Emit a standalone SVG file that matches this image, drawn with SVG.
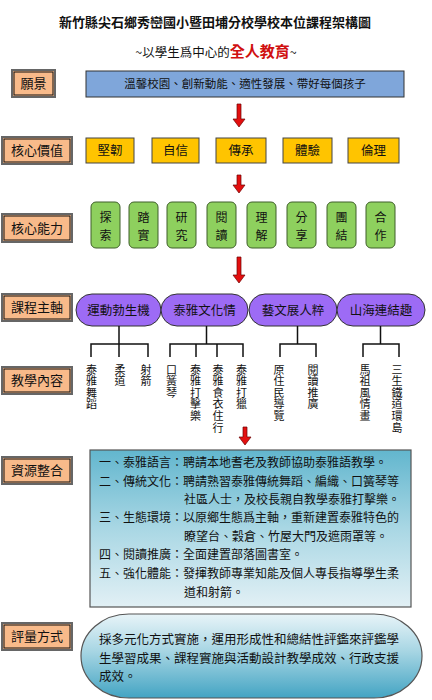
<svg xmlns="http://www.w3.org/2000/svg" width="432" height="700" viewBox="0 0 432 700">
<defs>
<linearGradient id="gRes" x1="0" y1="0" x2="0" y2="1">
<stop offset="0" stop-color="#62B6CE"/>
<stop offset="0.5" stop-color="#A9D7E4"/>
<stop offset="1" stop-color="#E2F0F5"/>
</linearGradient>
<linearGradient id="gEval" x1="0" y1="0" x2="0" y2="1">
<stop offset="0" stop-color="#E8F4F8"/>
<stop offset="0.45" stop-color="#A6D5E3"/>
<stop offset="1" stop-color="#43A4C3"/>
</linearGradient>
</defs>
<style>
text{font-family:"Noto Sans CJK TC","Noto Sans CJK SC",sans-serif;fill:#111;}
.lbl rect.o{fill:#F8BA8A;stroke:#666;stroke-width:2;}
.lbl rect.i{fill:none;stroke:#111;stroke-width:1;}
.lbl text{font-size:13px;text-anchor:middle;}
.yel rect{fill:#FFC400;stroke:#444;stroke-width:1;}
.yel text{font-size:12.5px;text-anchor:middle;}
.grn rect{fill:#8ED05E;stroke:#3F5F2A;stroke-width:1;}
.grn text{font-size:12px;text-anchor:middle;}
.pur rect{fill:#9D6BF5;stroke:#333;stroke-width:1;}
.pur text{font-size:12.5px;text-anchor:middle;}
.vt text{font-size:11px;writing-mode:vertical-rl;letter-spacing:0.6px;}
.tree{fill:none;stroke:#111;stroke-width:1.5;}
.arr{fill:#E30F0F;stroke:#6A0000;stroke-width:0.7;}
.res{font-size:12px;}
.ev{font-size:12.5px;}
</style>

<g id="title">
<text x="215" y="27" font-size="13" font-weight="bold" text-anchor="middle">新竹縣尖石鄉秀巒國小暨田埔分校學校本位課程架構圖</text>
<text x="216" y="57" font-size="12.5" text-anchor="middle">~以學生爲中心的<tspan fill="#D01010" font-size="15" font-weight="bold" style="fill:#D01010">全人教育</tspan>~</text>
</g>

<g id="lbl-vision" class="lbl"><rect class="o" x="12" y="70" width="43" height="27"/><rect class="i" x="14" y="72" width="39" height="23"/><text x="33.5" y="88">願景</text></g>
<g id="vision"><rect x="86" y="71" width="318" height="26" fill="#7FA6DA" stroke="#333" stroke-width="1"/><text x="245" y="88" font-size="11.5" text-anchor="middle">溫馨校園、創新動能、適性發展、帶好每個孩子</text></g>

<g id="lbl-value" class="lbl"><rect class="o" x="2" y="137" width="70" height="27"/><rect class="i" x="4" y="139" width="66" height="23"/><text x="37" y="155">核心價值</text></g>
<g id="v1" class="yel"><rect x="86" y="138" width="48" height="25"/><text x="110" y="155">堅韌</text></g>
<g id="v2" class="yel"><rect x="152" y="138" width="47" height="25"/><text x="175.5" y="155">自信</text></g>
<g id="v3" class="yel"><rect x="216" y="138" width="50" height="25"/><text x="241" y="155">傳承</text></g>
<g id="v4" class="yel"><rect x="283" y="138" width="49" height="25"/><text x="307.5" y="155">體驗</text></g>
<g id="v5" class="yel"><rect x="348" y="138" width="51" height="25"/><text x="373.5" y="155">倫理</text></g>

<g id="lbl-ability" class="lbl"><rect class="o" x="2" y="214" width="70" height="28"/><rect class="i" x="4" y="216" width="66" height="24"/><text x="37" y="233">核心能力</text></g>
<g id="a1" class="grn"><rect x="91" y="202" width="29" height="46" rx="5"/><text x="105.5" y="222">探</text><text x="105.5" y="240">索</text></g>
<g id="a2" class="grn"><rect x="129" y="202" width="29" height="46" rx="5"/><text x="143.5" y="222">踏</text><text x="143.5" y="240">實</text></g>
<g id="a3" class="grn"><rect x="167" y="202" width="29" height="46" rx="5"/><text x="181.5" y="222">研</text><text x="181.5" y="240">究</text></g>
<g id="a4" class="grn"><rect x="207" y="202" width="29" height="46" rx="5"/><text x="221.5" y="222">閱</text><text x="221.5" y="240">讀</text></g>
<g id="a5" class="grn"><rect x="247" y="202" width="29" height="46" rx="5"/><text x="261.5" y="222">理</text><text x="261.5" y="240">解</text></g>
<g id="a6" class="grn"><rect x="287" y="202" width="29" height="46" rx="5"/><text x="301.5" y="222">分</text><text x="301.5" y="240">享</text></g>
<g id="a7" class="grn"><rect x="327" y="202" width="29" height="46" rx="5"/><text x="341.5" y="222">團</text><text x="341.5" y="240">結</text></g>
<g id="a8" class="grn"><rect x="366" y="202" width="29" height="46" rx="5"/><text x="380.5" y="222">合</text><text x="380.5" y="240">作</text></g>

<g id="lbl-axis" class="lbl"><rect class="o" x="2" y="294" width="70" height="27"/><rect class="i" x="4" y="296" width="66" height="23"/><text x="37" y="312">課程主軸</text></g>
<g id="p1" class="pur"><rect x="76" y="294" width="85" height="32" rx="16"/><text x="118.5" y="315">運動勃生機</text></g>
<g id="p2" class="pur"><rect x="161" y="294" width="87" height="32" rx="16"/><text x="204.5" y="315">泰雅文化情</text></g>
<g id="p3" class="pur"><rect x="249" y="294" width="88" height="32" rx="16"/><text x="293" y="315">藝文展人粹</text></g>
<g id="p4" class="pur"><rect x="337" y="294" width="88" height="32" rx="16"/><text x="381" y="315">山海連結趣</text></g>

<g id="lbl-content" class="lbl"><rect class="o" x="2" y="367" width="70" height="27"/><rect class="i" x="4" y="369" width="66" height="23"/><text x="37" y="385">教學內容</text></g>
<g id="contents" class="vt">
<text x="91.5" y="364">泰雅舞蹈</text>
<text x="120" y="364">柔道</text>
<text x="146" y="364">射箭</text>
<text x="171.5" y="364">口簧琴</text>
<text x="195.5" y="364">泰雅打擊樂</text>
<text x="218" y="364">泰雅食衣住行</text>
<text x="241.5" y="364">泰雅打獵</text>
<text x="279" y="364">原住民導覽</text>
<text x="313" y="364">閱讀推廣</text>
<text x="365" y="364">馬祖風情畫</text>
<text x="397" y="364">三生鐵道環島</text>
</g>

<g id="connectors">
<path class="arr" d="M237,104 H241 V119 H245 L239,127 L233,119 H237 Z"/>
<path class="arr" d="M237,175 H241 V185 H245 L239,193 L233,185 H237 Z"/>
<path class="arr" d="M237,257 H241 V275 H245 L239,283 L233,275 H237 Z"/>
<path class="arr" d="M243,427 H247 V437 H251 L245,445 L239,437 H243 Z"/>
<path class="tree" d="M119,326 V344 M91,357 V344 H148 V357 M119,344 V357"/>
<path class="tree" d="M206.5,326 V344 M170,357 V344 H243 V357 M196,344 V357 M217,344 V357"/>
<path class="tree" d="M297.5,326 V344 M280,357 V344 H316 V357"/>
<path class="tree" d="M380.5,326 V344 M363,357 V344 H399 V357"/>
</g>

<g id="lbl-resource" class="lbl"><rect class="o" x="2" y="457" width="70" height="27"/><rect class="i" x="4" y="459" width="66" height="23"/><text x="37" y="475">資源整合</text></g>
<g id="resource">
<rect x="90" y="450" width="321" height="157" fill="url(#gRes)" stroke="#555" stroke-width="1.2"/>
<text class="res" x="99" y="467">一、泰雅語言：聘請本地耆老及教師協助泰雅語教學。</text>
<text class="res" x="99" y="486">二、傳統文化：聘請熟習泰雅傳統舞蹈、編織、口簧琴等</text>
<text class="res" x="184" y="504">社區人士，及校長親自教學泰雅打擊樂。</text>
<text class="res" x="99" y="522">三、生態環境：以原鄉生態爲主軸，重新建置泰雅特色的</text>
<text class="res" x="184" y="541">瞭望台、穀倉、竹屋大門及遮雨罩等。</text>
<text class="res" x="99" y="559">四、閱讀推廣：全面建置部落圖書室。</text>
<text class="res" x="99" y="578">五、強化體能：發揮教師專業知能及個人專長指導學生柔</text>
<text class="res" x="184" y="597">道和射箭。</text>
</g>

<g id="lbl-eval" class="lbl"><rect class="o" x="2" y="623" width="70" height="27"/><rect class="i" x="4" y="625" width="66" height="23"/><text x="37" y="641">評量方式</text></g>
<g id="evaluation">
<rect x="81" y="614" width="341" height="84" rx="48" ry="42" fill="url(#gEval)" stroke="#555" stroke-width="1.2"/>
<text class="ev" x="99" y="644">採多元化方式實施，運用形成性和總結性評鑑來評鑑學</text>
<text class="ev" x="99" y="663">生學習成果、課程實施與活動設計教學成效、行政支援</text>
<text class="ev" x="99" y="681">成效。</text>
</g>
</svg>
